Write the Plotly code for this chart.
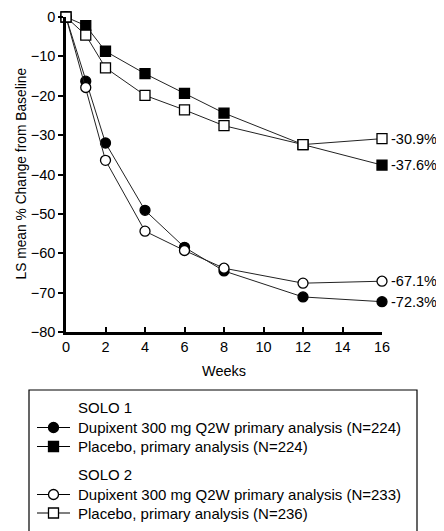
import plotly.graph_objects as go

weeks = [0, 1, 2, 4, 6, 8, 12, 16]
solo1_dupixent = [0, -16.3, -32.0, -49.1, -58.5, -64.5, -71.1, -72.3]
solo1_placebo = [0, -2.2, -8.7, -14.4, -19.4, -24.4, -32.4, -37.6]
solo2_dupixent = [0, -17.9, -36.4, -54.4, -59.3, -63.8, -67.6, -67.1]
solo2_placebo = [0, -4.6, -12.9, -19.9, -23.6, -27.6, -32.4, -30.9]

names = [
    "Dupixent 300 mg Q2W primary analysis (N=224)",
    "Placebo, primary analysis (N=224)",
    "Dupixent 300 mg Q2W primary analysis (N=233)",
    "Placebo, primary analysis (N=236)",
]
group_titles = ["SOLO 1", "SOLO 2"]
end_labels = ["-72.3%", "-37.6%", "-67.1%", "-30.9%"]
xticks = [0, 2, 4, 6, 8, 10, 12, 14, 16]
yticks = [0, -10, -20, -30, -40, -50, -60, -70, -80]
y_title = "LS mean % Change from Baseline"
x_title = "Weeks"

FONT = "Liberation Sans, Arial, sans-serif"
W, H = 436, 523  # page body adds 8px offset


def px_x(p):
    return p / W


def px_y(p):
    return 1 - p / H


fig = go.Figure()

series = [solo1_dupixent, solo1_placebo, solo2_dupixent, solo2_placebo]
symbols = ["circle", "square", "circle", "square"]
fills = ["black", "black", "white", "white"]

for vals, name, sym, fill in zip(series, names, symbols, fills):
    fig.add_trace(go.Scatter(
        x=weeks, y=vals, mode="lines+markers", name=name,
        line=dict(color="#222", width=1),
        marker=dict(symbol=sym, size=10, color=fill,
                    line=dict(color="black", width=1.3)),
        cliponaxis=False, showlegend=False,
    ))

for vals, lab in zip(series, end_labels):
    fig.add_annotation(x=weeks[-1], y=vals[-1], text=lab, showarrow=False,
                       xanchor="left", xshift=7, font=dict(size=14.5, color="black", family=FONT))

# y-axis title placed as rotated text
fig.add_annotation(xref="paper", yref="paper", x=px_x(12.5), y=px_y(166),
                   text=y_title, textangle=-90, showarrow=False,
                   xanchor="center", yanchor="middle",
                   font=dict(size=13.8, color="black", family=FONT))

# ---- manual legend (pixel overlay axes) ----
legend_rows = [
    ("title", group_titles[0], None, None),
    ("item", names[0], "circle", "black"),
    ("item", names[1], "square", "black"),
    ("title", group_titles[1], None, None),
    ("item", names[2], "circle", "white"),
    ("item", names[3], "square", "white"),
]
row_y = [399.5, 419.5, 438.5, 466.5, 486.5, 505]
for (kind, text, sym, fill), ry in zip(legend_rows, row_y):
    fig.add_annotation(xref="paper", yref="paper", x=px_x(68), y=px_y(ry),
                       text=text, showarrow=False, xanchor="left", yanchor="middle",
                       font=dict(size=15, color="black", family=FONT))
    if kind == "item":
        fig.add_trace(go.Scatter(x=[29, 62], y=[ry, ry], mode="lines",
                                 line=dict(color="black", width=1.2),
                                 xaxis="x2", yaxis="y2", showlegend=False, hoverinfo="skip"))
        fig.add_trace(go.Scatter(x=[45.5], y=[ry], mode="markers",
                                 marker=dict(symbol=sym, size=10, color=fill,
                                             line=dict(color="black", width=1.3)),
                                 xaxis="x2", yaxis="y2", showlegend=False, hoverinfo="skip"))

fig.add_shape(type="rect", xref="paper", yref="paper",
              x0=px_x(21), x1=px_x(409), y0=px_y(382), y1=px_y(540),
              line=dict(color="black", width=1.2), fillcolor="rgba(0,0,0,0)", layer="below")

fig.update_layout(
    width=W, height=H,
    margin=dict(l=0, r=0, t=0, b=0, autoexpand=False),
    paper_bgcolor="white", plot_bgcolor="rgba(0,0,0,0)",
    font=dict(family=FONT, color="black", size=14),
    xaxis=dict(domain=[px_x(58), px_x(374)], range=[0, 16], tickvals=xticks,
               showgrid=False, zeroline=False,
               showline=True, linecolor="black", linewidth=2.5,
               ticks="inside", ticklen=5, tickwidth=2, tickcolor="black",
               tickfont=dict(size=14.5), title=dict(text=x_title, font=dict(size=14.5), standoff=12)),
    yaxis=dict(domain=[px_y(324), px_y(9)], range=[-80, 0], tickvals=yticks,
               showgrid=False, zeroline=False,
               showline=True, linecolor="black", linewidth=2.5,
               ticks="outside", ticklen=5, tickwidth=2, tickcolor="black",
               tickfont=dict(size=14.5)),
    xaxis2=dict(domain=[0, 1], range=[0, W], visible=False, fixedrange=True),
    yaxis2=dict(domain=[0, 1], range=[H, 0], visible=False, fixedrange=True),
    showlegend=False,
)

fig.write_html("out.html")
